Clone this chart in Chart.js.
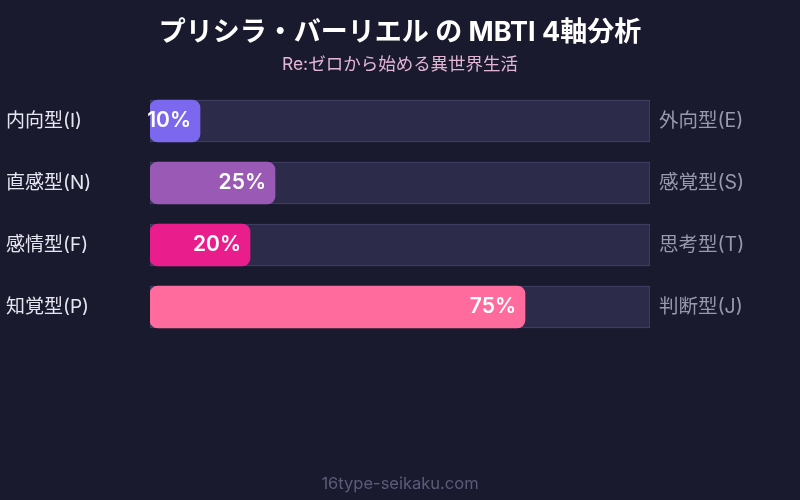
<!DOCTYPE html>
<html><head><meta charset="utf-8">
<script src="https://cdn.jsdelivr.net/npm/chart.js@4/dist/chart.umd.min.js"></script>
<style>html,body{margin:0;padding:0;background:#1a1a2e;}#wrap{width:800px;height:500px;}</style>
</head><body><div id="wrap"><canvas id="c"></canvas></div>
<script>
const leftLabels = ['内向型(I)', '直感型(N)', '感情型(F)', '知覚型(P)'];
const rightLabels = ['外向型(E)', '感覚型(S)', '思考型(T)', '判断型(J)'];
const values = [10, 25, 20, 75];
const trackValues = [100, 100, 100, 100];
const barColors = ['#7b68ee', '#9b59b6', '#e91e8c', '#ff6b9d'];
const titleText = 'プリシラ・バーリエル の MBTI 4軸分析';
const subtitleText = 'Re:ゼロから始める異世界生活';
const footerText = '16type-seikaku.com';

const FONT = 'Inter, "Noto Sans CJK JP", sans-serif';

const textPlugin = {
  id: 'texts',
  afterDatasetsDraw(chart) {
    const ctx = chart.ctx;
    const meta = chart.getDatasetMeta(0);
    ctx.save();
    ctx.fillStyle = '#ffffff';
    ctx.font = '600 21px ' + FONT;
    ctx.textAlign = 'right';
    ctx.textBaseline = 'middle';
    meta.data.forEach((bar, i) => {
      ctx.fillText(values[i] + '%', bar.x - 9, bar.y);
    });
    ctx.restore();
  },
  afterDraw(chart) {
    const ctx = chart.ctx;
    const cx = chart.width / 2;
    ctx.save();
    ctx.textAlign = 'center';
    ctx.textBaseline = 'middle';
    ctx.fillStyle = '#ffffff';
    ctx.font = 'bold 27px ' + FONT;
    ctx.fillText(titleText, cx, 33);
    ctx.fillStyle = '#e3b5d5';
    ctx.font = '17.5px ' + FONT;
    ctx.fillText(subtitleText, cx, 65);
    ctx.fillStyle = '#5c5c7a';
    ctx.font = '16.5px ' + FONT;
    ctx.fillText(footerText, cx, 484);
    ctx.restore();
  }
};

new Chart(document.getElementById('c'), {
  type: 'bar',
  data: {
    labels: leftLabels,
    datasets: [
      {
        data: values,
        backgroundColor: barColors,
        borderRadius: 8,
        borderSkipped: false,
        grouped: false,
        barThickness: 42,
        order: 0
      },
      {
        data: trackValues,
        backgroundColor: '#2d2b4a',
        borderColor: '#45436a',
        borderWidth: 1,
        borderSkipped: false,
        grouped: false,
        barThickness: 42,
        order: 1
      }
    ]
  },
  options: {
    indexAxis: 'y',
    responsive: true,
    maintainAspectRatio: false,
    animation: false,
    layout: { padding: { top: 90, bottom: 162, left: 6, right: 0 } },
    plugins: { legend: { display: false }, tooltip: { enabled: false } },
    scales: {
      x: { display: false, min: 0, max: 100 },
      y: {
        position: 'left',
        grid: { display: false },
        border: { display: false },
        ticks: { color: '#e6e6f0', font: { size: 19, family: FONT }, crossAlign: 'far', padding: 0 },
        afterFit(s) { s.width = 144; }
      },
      y2: {
        type: 'category',
        labels: rightLabels,
        position: 'right',
        grid: { display: false },
        border: { display: false },
        ticks: { color: '#9898ae', font: { size: 19.5, family: FONT }, crossAlign: 'near', padding: 1 },
        afterFit(s) { s.width = 150; }
      }
    }
  },
  plugins: [textPlugin]
});
</script>
</body></html>
